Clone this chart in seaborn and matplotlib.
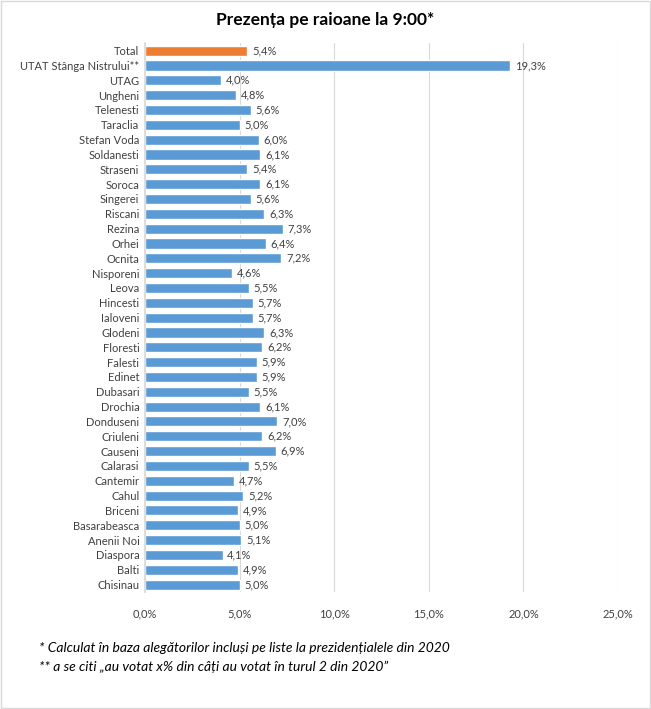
import pandas as pd
import matplotlib.pyplot as plt
import seaborn as sns
from matplotlib.patches import Rectangle

sns.set_theme(style='white')
plt.rcParams['font.family'] = ['Lato', 'DejaVu Sans']

regions = ['Total', 'UTAT Stânga Nistrului**', 'UTAG', 'Ungheni', 'Telenesti', 'Taraclia',
           'Stefan Voda', 'Soldanesti', 'Straseni', 'Soroca', 'Singerei', 'Riscani', 'Rezina',
           'Orhei', 'Ocnita', 'Nisporeni', 'Leova', 'Hincesti', 'Ialoveni', 'Glodeni', 'Floresti',
           'Falesti', 'Edinet', 'Dubasari', 'Drochia', 'Donduseni', 'Criuleni', 'Causeni',
           'Calarasi', 'Cantemir', 'Cahul', 'Briceni', 'Basarabeasca', 'Anenii Noi', 'Diaspora',
           'Balti', 'Chisinau']
turnout = [5.4, 19.3, 4.0, 4.8, 5.6, 5.0, 6.0, 6.1, 5.4, 6.1, 5.6, 6.3, 7.3, 6.4, 7.2, 4.6,
           5.5, 5.7, 5.7, 6.3, 6.2, 5.9, 5.9, 5.5, 6.1, 7.0, 6.2, 6.9, 5.5, 4.7, 5.2, 4.9,
           5.0, 5.1, 4.1, 4.9, 5.0]
xticks = [0, 5, 10, 15, 20, 25]

df = pd.DataFrame({'region': regions, 'turnout': turnout})
colors = ['#ED7D31'] + ['#5B9BD5'] * (len(regions) - 1)

fig = plt.figure(figsize=(6.51, 7.09), dpi=100)
ax = fig.add_axes([0.2227, 0.165, 0.7266, 0.774])
sns.barplot(data=df, x='turnout', y='region', hue='region', palette=colors,
            legend=False, width=0.68, ax=ax, saturation=1)

ax.set_xlim(0, 25)
ax.set_ylim(len(regions) - 0.5, -0.5)
ax.set_xticks(xticks)
ax.set_xticklabels([f'{t:.1f}%'.replace('.', ',') for t in xticks], fontsize=8, color='#404040')
ax.tick_params(axis='y', labelsize=8, colors='#404040', length=0, pad=4)
ax.tick_params(axis='x', length=0, pad=12)
ax.set_xlabel('')
ax.set_ylabel('')
ax.xaxis.grid(True, color='#D9D9D9', linewidth=0.8)
ax.set_axisbelow(True)
for s in ['top', 'right', 'bottom']:
    ax.spines[s].set_visible(False)
ax.spines['left'].set_color('#D9D9D9')

for i, v in enumerate(turnout):
    ax.text(v + 0.25, i, f'{v:.1f}%'.replace('.', ','), va='center', ha='left',
            fontsize=8, color='#404040')

fig.text(0.5, 0.972, 'Prezența pe raioane la 9:00*', ha='center', va='center',
         fontsize=12.5, fontweight='bold', color='#000000')
fig.text(0.06, 0.086, '* Calculat în baza alegătorilor incluși pe liste la prezidențialele din 2020',
         fontsize=10, style='italic', color='#000000', va='center')
fig.text(0.06, 0.059, '** a se citi „au votat x% din câți au votat în turul 2 din 2020”',
         fontsize=10, style='italic', color='#000000', va='center')

fig.patches.append(Rectangle((0.002, 0.002), 0.996, 0.996, transform=fig.transFigure,
                             fill=False, edgecolor='#D9D9D9', linewidth=1))

fig.savefig('out.png', dpi=100)
